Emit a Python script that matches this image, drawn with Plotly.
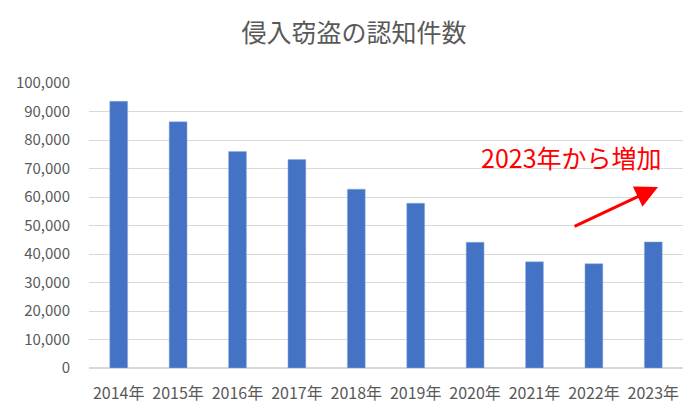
import plotly.graph_objects as go

years = ["2014年", "2015年", "2016年", "2017年", "2018年",
         "2019年", "2020年", "2021年", "2022年", "2023年"]
counts = [93566, 86373, 75974, 73122, 62745, 57808, 44093, 37240, 36588, 44228]

FONT = "Noto Sans CJK JP"
GRAY = "#595959"

# ページ本体の余白(8px)ぶん図を小さくして位置を合わせる
W, H = 692, 411

fig = go.Figure(
    go.Bar(
        x=years,
        y=counts,
        marker=dict(color="#4472c4", line=dict(color="#8faadc", width=0.5)),
    )
)

fig.update_layout(
    width=W,
    height=H,
    margin=dict(l=81, r=17, t=75, b=51),
    paper_bgcolor="white",
    plot_bgcolor="white",
    bargap=0.7,
    showlegend=False,
    font=dict(family=FONT, color=GRAY, size=15),
    title=dict(
        text="侵入窃盗の認知件数",
        x=0.5,
        xanchor="center",
        y=1 - 25 / H,
        yanchor="middle",
        font=dict(family=FONT, size=25, color=GRAY),
    ),
)

fig.update_yaxes(
    range=[0, 100000],
    dtick=10000,
    tickformat=",",
    showgrid=True,
    gridcolor="#d9d9d9",
    gridwidth=1,
    zeroline=True,
    zerolinecolor="#d9d9d9",
    showline=False,
    ticks="",
    automargin=False,
    ticklabelstandoff=18,
    tickfont=dict(family=FONT, size=15, color=GRAY),
)
fig.update_xaxes(
    showgrid=False,
    showline=False,
    ticks="",
    tickangle=0,
    automargin=False,
    ticklabelstandoff=14,
    tickfont=dict(family=FONT, size=16, color=GRAY),
)

# 注記と矢印
fig.add_annotation(
    x=9.08,
    y=63500,
    xref="x",
    yref="y",
    ax=-85,
    ay=40,
    showarrow=True,
    arrowhead=2,
    arrowsize=1.5,
    arrowwidth=3,
    arrowcolor="#ff0000",
    text="",
)
fig.add_annotation(
    x=0.813,
    y=0.74,
    xref="paper",
    yref="paper",
    showarrow=False,
    text="2023年から増加",
    font=dict(family=FONT, size=25, color="#ff0000"),
    xanchor="center",
    yanchor="middle",
)

fig.write_html("out.html")
